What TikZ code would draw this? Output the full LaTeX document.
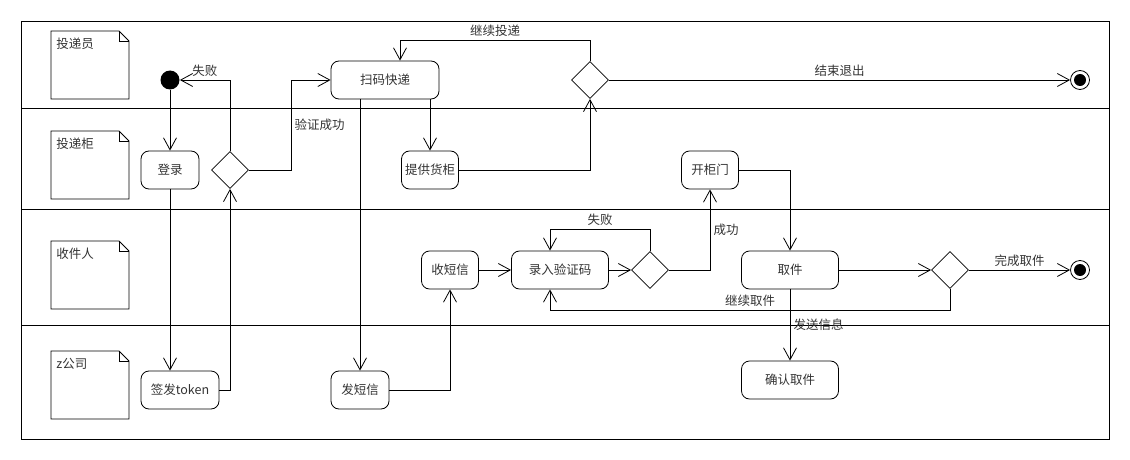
\documentclass[tikz,border=0pt]{standalone}
\usepackage{fontspec}
\setmainfont{Noto Sans CJK SC}
\usetikzlibrary{arrows.meta,shapes.geometric,positioning}

\begin{document}
\begin{tikzpicture}[x=1pt, y=-1pt, line width=0.8pt,
                    font=\fontsize{12.5}{15}\selectfont, text=black!80,
                    act/.style = {draw, rounded corners=8pt, minimum height=38pt, inner xsep=2pt},
                    choice/.style = {draw, diamond, minimum size=37pt, inner sep=0pt},
                    start/.style = {circle, fill=black, minimum size=19pt, inner sep=0pt},
                    stop/.style = {circle, draw, minimum size=19pt, inner sep=0pt,
                                   path picture={\fill (path picture bounding box.center) circle (6pt);}},
                    flow/.style = {-{Straight Barb[length=12pt,width=13pt]}}]
                    \useasboundingbox (0,0) rectangle (1130,460);

                    % swimlanes
                    \draw (21,21) rectangle (1109,439);
                    \foreach \y in {108,209,325}
                        \draw (21,\y) -- (1109,\y);
                    \foreach \y/\lane in {31/投递员, 131/投递柜, 241/收件人, 351/z公司} {
                        \draw (51,\y) -- (119,\y) -- (129,\y+10) -- (129,\y+68) -- (51,\y+68) -- cycle;
                        \draw (119,\y) -- (119,\y+10) -- (129,\y+10);
                        \node[anchor=west, inner sep=0pt] at (56,\y+13) {\lane};
                    }

                    \node[start] (init) at (170,80) {};
                    \node[act, minimum width=58pt] (login) at (170,170) {登录};
                    \node[choice] (chk) at (230,170) {};
                    \node[act, minimum width=78pt] (token) at (180,390) {签发token};
                    \node[act, minimum width=108pt] (scan) at (385,80) {扫码快递};
                    \node[act, minimum width=57pt] (cab) at (430,170) {提供货柜};
                    \node[choice] (more) at (590,80) {};
                    \node[stop] (fin) at (1080,80) {};
                    \node[act, minimum width=58pt] (sms) at (360,390) {发短信};
                    \node[act, minimum width=57pt] (recv) at (450,270) {收短信};
                    \node[act, minimum width=97pt] (code) at (560,270) {录入验证码};
                    \node[choice] (ok) at (650,270) {};
                    \node[act, minimum width=57pt] (door) at (710,170) {开柜门};
                    \node[act, minimum width=97pt] (take) at (790,270) {取件};
                    \node[choice] (done) at (950,270) {};
                    \node[stop] (fin2) at (1080,270) {};
                    \node[act, minimum width=97pt] (confirm) at (790,380) {确认取件};

                    % login
                    \draw[flow] (init) -- (login);
                    \draw[flow] (login) -- (login |- token.north);
                    \draw[flow] (token) -| (chk);
                    \draw[flow] (chk) |- node[pos=0.75, above] {失败} (init);
                    \draw[flow] (chk.east) -- ++(42,0) |- node[pos=0.25, right] {验证成功} (scan);

                    % delivery
                    \draw[flow] (scan.south -| sms) -- (sms);
                    \draw[flow] (scan.south -| cab) -- (cab);
                    \draw[flow] (cab) -| (more);
                    \draw[flow] (more.north) -- ++(0,-21) -| node[pos=0.25, above] {继续投递} ([xshift=15pt]scan.north);
                    \draw[flow] (more) -- node[above] {结束退出} (fin);

                    % pick up
                    \draw[flow] (sms) -| (recv);
                    \draw[flow] (recv) -- (code);
                    \draw[flow] (code) -- (ok);
                    \draw[flow] (ok.north) -- ++(0,-22) -| node[pos=0.25, above] {失败} ([xshift=-10pt]code.north);
                    \draw[flow] (ok) -| node[pos=0.75, right] {成功} (door);
                    \draw[flow] (door) -| (take);
                    \draw[flow] (take) -- (done);
                    \draw[flow] (done) -- node[above] {完成取件} (fin2);
                    \draw[flow] (done.south) -- ++(0,21) -| node[pos=0.25, above] {继续取件} ([xshift=-10pt]code.south);
                    \draw[flow] (take) -- node[right] {发送信息} (confirm);
                \end{tikzpicture}
\end{document}
